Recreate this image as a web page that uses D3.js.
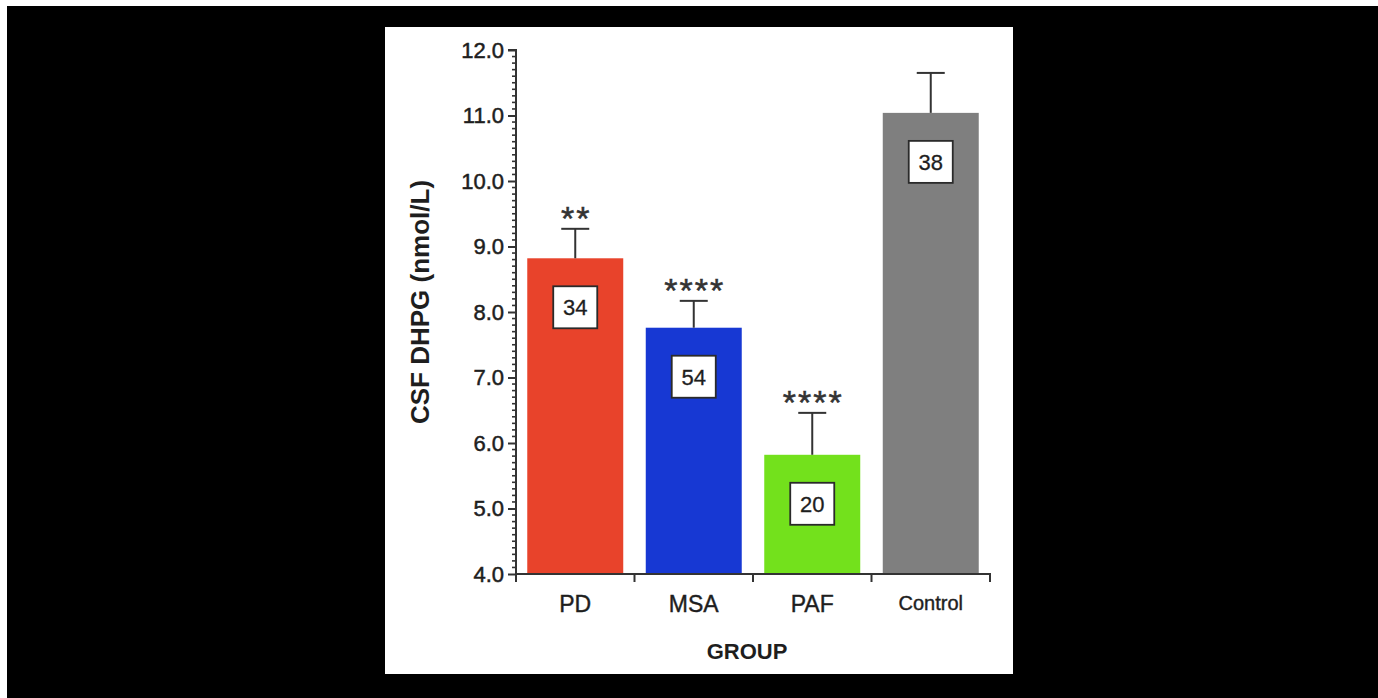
<!DOCTYPE html>
<html>
<head>
<meta charset="utf-8">
<script src="https://cdn.jsdelivr.net/npm/d3@7"></script>
<style>
  html, body { margin: 0; padding: 0; background: #fff; }
  svg { display: block; }
  text { font-family: "Liberation Sans", Arial, sans-serif; }
</style>
</head>
<body>
<svg id="chart" width="1378" height="698"></svg>
<script>
// ---- data ----
const categories = ["PD", "MSA", "PAF", "Control"];
const means = [8.82, 7.76, 5.82, 11.04];
const errors = [0.45, 0.41, 0.64, 0.61];
const counts = ["34", "54", "20", "38"];
const significance = ["**", "****", "****", ""];
const barColors = ["#e8432b", "#1738d3", "#73e11c", "#7f7f7f"];
const yTickValues = [4, 5, 6, 7, 8, 9, 10, 11, 12];
const yTitle = "CSF DHPG (nmol/L)";
const xTitle = "GROUP";

// ---- layout ----
const svg = d3.select("#chart");
svg.append("rect").attr("x", 0).attr("y", 0).attr("width", 1378).attr("height", 698).attr("fill", "#ffffff");
svg.append("rect").attr("x", 7).attr("y", 6).attr("width", 1371).attr("height", 692).attr("fill", "#000000");
svg.append("rect").attr("x", 385).attr("y", 27).attr("width", 628).attr("height", 647).attr("fill", "#ffffff");

const x0 = 516, x1 = 990, yTop = 50, yBot = 574;
const x = d3.scaleBand().domain(categories).range([x0, x1]).paddingInner(0.19).paddingOuter(0.095);
const y = d3.scaleLinear().domain([4, 12]).range([yBot, yTop]);
const axisColor = "#333";
const textColor = "#1e1e1e";

const g = svg.append("g");

// bars
g.selectAll("rect.bar").data(categories).enter().append("rect")
  .attr("class", "bar")
  .attr("x", d => x(d))
  .attr("width", x.bandwidth())
  .attr("y", (d, i) => y(means[i]))
  .attr("height", (d, i) => y(4) - y(means[i]))
  .attr("fill", (d, i) => barColors[i]);

// error bars
const capW = 28;
categories.forEach((d, i) => {
  const cx = x(d) + x.bandwidth() / 2;
  g.append("line").attr("x1", cx).attr("x2", cx)
    .attr("y1", y(means[i])).attr("y2", y(means[i] + errors[i]))
    .attr("stroke", axisColor).attr("stroke-width", 2);
  g.append("line").attr("x1", cx - capW / 2).attr("x2", cx + capW / 2)
    .attr("y1", y(means[i] + errors[i])).attr("y2", y(means[i] + errors[i]))
    .attr("stroke", axisColor).attr("stroke-width", 2);
  if (significance[i]) {
    g.append("text").attr("x", cx + 1).attr("y", y(means[i] + errors[i]) + 1)
      .attr("text-anchor", "middle")
      .attr("font-size", 34).attr("letter-spacing", 2)
      .attr("fill", "#333").attr("stroke", "#333").attr("stroke-width", 0.5)
      .text(significance[i]);
  }
  // count box
  const bw = 44, bh = 42, by = y(means[i]) + 49;
  g.append("rect").attr("x", cx - bw / 2).attr("y", by - bh / 2)
    .attr("width", bw).attr("height", bh)
    .attr("fill", "#fff").attr("stroke", "#2a2a2a").attr("stroke-width", 1.8);
  g.append("text").attr("x", cx).attr("y", by + 8)
    .attr("text-anchor", "middle").attr("font-size", 22).attr("fill", textColor)
    .attr("stroke", textColor).attr("stroke-width", 0.3)
    .text(counts[i]);
});

// y axis
const yAxis = d3.axisLeft(y).tickValues(yTickValues).tickFormat(d3.format(".1f")).tickSize(8).tickPadding(4);
const ya = svg.append("g").attr("transform", `translate(${x0},0)`).call(yAxis);
ya.select(".domain").attr("stroke", axisColor).attr("stroke-width", 2).attr("d", `M-8,${yTop}H0V${yBot}`);
ya.selectAll(".tick line").attr("stroke", axisColor).attr("stroke-width", 2);
ya.selectAll(".tick text").attr("font-size", 22).attr("fill", textColor)
  .attr("stroke", textColor).attr("stroke-width", 0.5)
  .attr("font-family", "Liberation Sans, Arial, sans-serif");
// minor ticks
const minor = d3.range(40, 121).map(v => v / 10).filter(v => Math.abs(v - Math.round(v)) > 1e-6);
ya.selectAll("line.minor").data(minor).enter().append("line")
  .attr("class", "minor").attr("x1", -4).attr("x2", 1)
  .attr("y1", d => y(d)).attr("y2", d => y(d))
  .attr("stroke", axisColor).attr("stroke-width", 1.6);

// x axis
svg.append("line").attr("x1", x0 - 1).attr("x2", x1 + 1).attr("y1", yBot).attr("y2", yBot)
  .attr("stroke", axisColor).attr("stroke-width", 2);
const step = x.step();
const bounds = [x0].concat(categories.map(d => x(d) + x.bandwidth() / 2 + step / 2));
svg.selectAll("line.xtick").data(bounds).enter().append("line")
  .attr("class", "xtick").attr("x1", d => d).attr("x2", d => d)
  .attr("y1", yBot).attr("y2", yBot + 8)
  .attr("stroke", axisColor).attr("stroke-width", 2);
svg.selectAll("text.xlab").data(categories).enter().append("text")
  .attr("class", "xlab")
  .attr("x", d => x(d) + x.bandwidth() / 2)
  .attr("y", d => d === "Control" ? 610 : 612)
  .attr("text-anchor", "middle")
  .attr("font-size", d => d === "Control" ? 20 : 23)
  .attr("fill", textColor).attr("stroke", textColor).attr("stroke-width", 0.4)
  .text(d => d);

// titles
svg.append("text").attr("x", 747).attr("y", 659).attr("text-anchor", "middle")
  .attr("font-size", 22).attr("font-weight", "bold").attr("fill", textColor).text(xTitle);
svg.append("text").attr("transform", "translate(429,302) rotate(-90)")
  .attr("text-anchor", "middle").attr("font-size", 26).attr("font-weight", "bold")
  .attr("fill", textColor).text(yTitle);
</script>
</body>
</html>
